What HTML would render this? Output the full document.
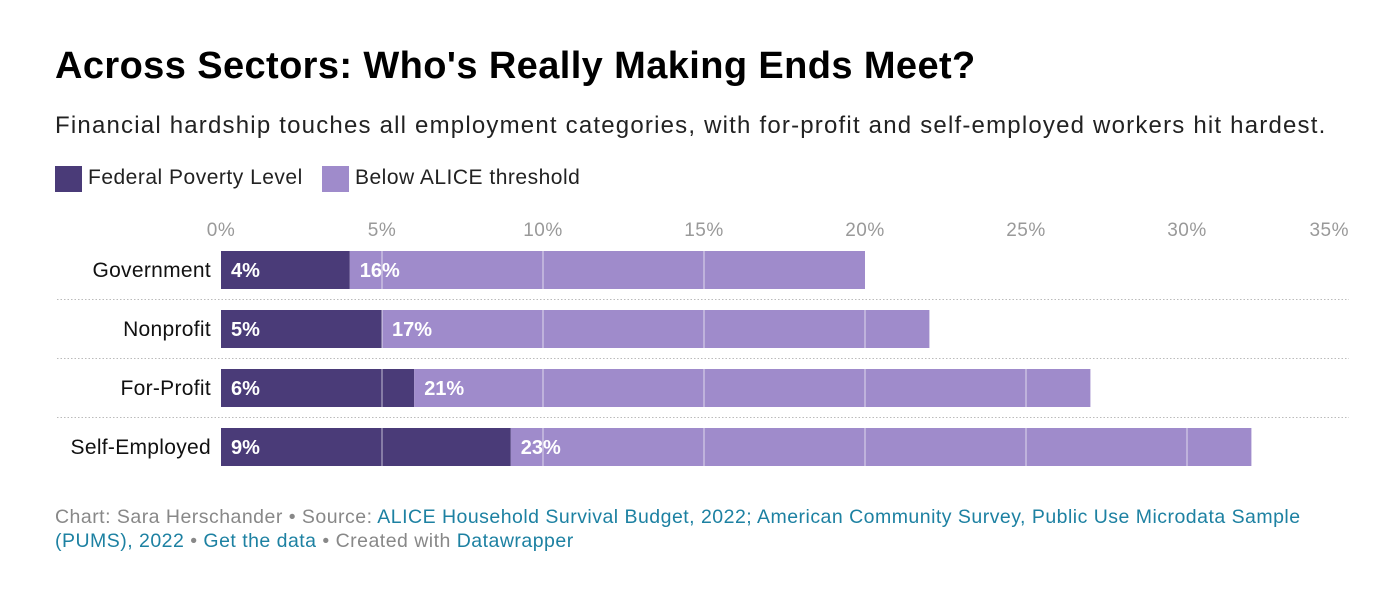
<!DOCTYPE html>
<html><head><meta charset="utf-8"><style>
body{margin:0;background:#fff;font-family:"Liberation Sans",sans-serif;width:1400px;height:596px;overflow:hidden;position:relative}
.t{position:absolute;white-space:nowrap}
a{color:#1d81a2;text-decoration:none}
</style></head><body>
<div class="t" style="left:55px;top:45px;font-size:38px;font-weight:bold;letter-spacing:0.4px;color:#000">Across Sectors: Who's Really Making Ends Meet?</div>
<div class="t" style="left:55px;top:112px;font-size:24px;letter-spacing:1.2px;color:#222">Financial hardship touches all employment categories, with for-profit and self-employed workers hit hardest.</div>
<div>
<div style="position:absolute;left:55px;top:166px;width:27px;height:26px;background:#4a3b78"></div>
<div class="t" style="left:88px;top:166px;font-size:21px;letter-spacing:0.5px;color:#222">Federal Poverty Level</div>
<div style="position:absolute;left:322px;top:166px;width:27px;height:26px;background:#9f8bcb"></div>
<div class="t" style="left:355px;top:166px;font-size:21px;letter-spacing:0.5px;color:#222">Below ALICE threshold</div>
</div>
<svg id="chart" width="1400" height="596" style="position:absolute;left:0;top:0"></svg>
<div class="t" style="left:55px;top:506px;font-size:19.5px;letter-spacing:0.48px;color:#888">Chart: Sara Herschander • Source: <a>ALICE Household Survival Budget, 2022; American Community Survey, Public Use Microdata Sample</a></div>
<div class="t" style="left:55px;top:530px;font-size:19.5px;letter-spacing:0.48px;color:#888"><a>(PUMS), 2022</a> • <a>Get the data</a> • Created with <a>Datawrapper</a></div>
<script>
const categories=["Government","Nonprofit","For-Profit","Self-Employed"];
const fpl=[4,5,6,9];
const alice=[16,17,21,23];
const ticks=[0,5,10,15,20,25,30,35];
const NS="http://www.w3.org/2000/svg";
const svg=document.getElementById('chart');
const x0=221,pxPer=32.2;
const x=v=>x0+v*pxPer;
const rowY=i=>251+i*59, bh=38;
function mk(t,a){const e=document.createElementNS(NS,t);for(const k in a)e.setAttribute(k,a[k]);svg.appendChild(e);return e;}
ticks.forEach((t,i)=>{
 const e=mk('text',{x:i==ticks.length-1?x(t)+1:x(t),y:236,'font-size':19,fill:'#999','text-anchor':i==ticks.length-1?'end':'middle','font-family':'Liberation Sans','letter-spacing':0.5});
 e.textContent=t+'%';
 
 
});
categories.forEach((c,i)=>{
 const y=rowY(i);
 const l=mk('text',{x:211,y:y+26,'font-size':21,fill:'#111','text-anchor':'end','font-family':'Liberation Sans','letter-spacing':0.3});
 l.textContent=c;
 
 
 const b1=mk('rect',{x:x(0),y:y,width:x(fpl[i])-x(0),height:bh,fill:'#4a3b78'});
 
 
 const b2=mk('rect',{x:x(fpl[i]),y:y,width:x(fpl[i]+alice[i])-x(fpl[i]),height:bh,fill:'#9f8bcb'});
 
 
 ticks.forEach(t=>{ if(t>0 && t<fpl[i]+alice[i]){
  const g=mk('line',{x1:x(t),x2:x(t),y1:y,y2:y+bh,stroke:'rgba(255,255,255,0.45)','stroke-width':1.5});
  
  
 }});
 const v1=mk('text',{x:x(0)+10,y:y+26,'font-size':20,fill:'#fff','font-weight':'bold','font-family':'Liberation Sans'});
 v1.textContent=fpl[i]+'%';
 
 
 const v2=mk('text',{x:x(fpl[i])+10,y:y+26,'font-size':20,fill:'#fff','font-weight':'bold','font-family':'Liberation Sans'});
 v2.textContent=alice[i]+'%';
 
 
 if(i<categories.length-1){
  const s=mk('line',{x1:57,x2:1349,y1:y+bh+10.5,y2:y+bh+10.5,stroke:'#bbb','stroke-width':1,'stroke-dasharray':'1.5 2'});
  
  
 }
});
</script>
</body></html>
